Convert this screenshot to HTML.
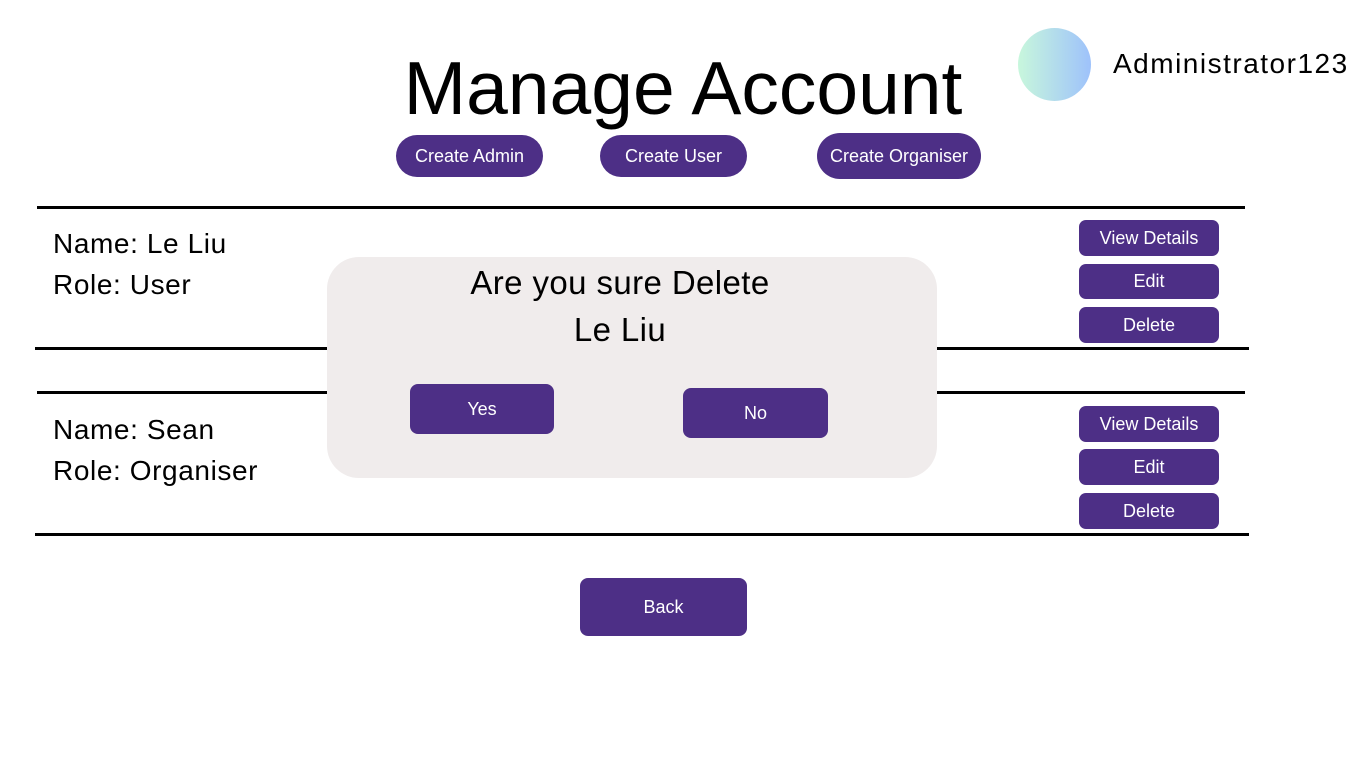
<!DOCTYPE html>
<html><head><meta charset="utf-8"><style>
body{margin:0;width:1366px;height:768px;background:#fff;position:relative;overflow:hidden;font-family:"Liberation Sans",sans-serif;}
.a{position:absolute;}
.b{position:absolute;background:#4d2f86;color:#fff;display:flex;align-items:center;justify-content:center;font-size:18px;}
.l{position:absolute;height:3px;background:#000;}
.t{position:absolute;font-size:28px;color:#000;white-space:nowrap;letter-spacing:0.6px;}
</style></head><body>
<div class="a" style="left:0;width:1366px;top:43px;text-align:center;font-size:75px;line-height:90px;">Manage Account</div>
<div class="a" style="left:1018px;top:28px;width:73px;height:73px;border-radius:50%;background:linear-gradient(90deg,#c8f7dc,#9ec2fb);"></div>
<div class="t" style="left:1113px;top:48px;font-size:28px;letter-spacing:1.5px;">Administrator123</div>
<div class="b" style="left:396px;top:135px;width:147px;height:42px;border-radius:21px;">Create Admin</div>
<div class="b" style="left:600px;top:135px;width:147px;height:42px;border-radius:21px;">Create User</div>
<div class="b" style="left:817px;top:133px;width:164px;height:46px;border-radius:23px;">Create Organiser</div>
<div class="l" style="left:37px;width:1208px;top:206px;"></div>
<div class="l" style="left:35px;width:1214px;top:347px;"></div>
<div class="l" style="left:37px;width:1208px;top:391px;"></div>
<div class="l" style="left:35px;width:1214px;top:533px;"></div>
<div class="t" style="left:53px;top:228px;">Name: Le Liu</div>
<div class="t" style="left:53px;top:269px;">Role: User</div>
<div class="t" style="left:53px;top:414px;">Name: Sean</div>
<div class="t" style="left:53px;top:455px;">Role: Organiser</div>
<div class="b" style="left:1079px;top:220px;width:140px;height:36px;border-radius:7px;">View Details</div>
<div class="b" style="left:1079px;top:264px;width:140px;height:35px;border-radius:7px;">Edit</div>
<div class="b" style="left:1079px;top:307px;width:140px;height:36px;border-radius:7px;">Delete</div>
<div class="b" style="left:1079px;top:406px;width:140px;height:36px;border-radius:7px;">View Details</div>
<div class="b" style="left:1079px;top:449px;width:140px;height:36px;border-radius:7px;">Edit</div>
<div class="b" style="left:1079px;top:493px;width:140px;height:36px;border-radius:7px;">Delete</div>
<div class="a" style="left:327px;top:257px;width:610px;height:221px;border-radius:32px;background:#f0ecec;"></div>
<div class="a" style="left:327px;width:586px;top:263px;text-align:center;font-size:33px;line-height:40px;letter-spacing:0.4px;">Are you sure Delete<br><span style="line-height:54px">Le Liu</span></div>
<div class="b" style="left:410px;top:384px;width:144px;height:50px;border-radius:8px;">Yes</div>
<div class="b" style="left:683px;top:388px;width:145px;height:50px;border-radius:8px;">No</div>
<div class="b" style="left:580px;top:578px;width:167px;height:58px;border-radius:8px;">Back</div>
</body></html>
